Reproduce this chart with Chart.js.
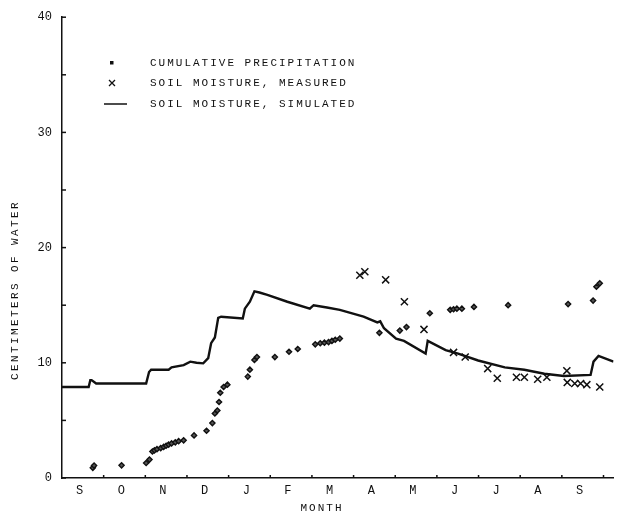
<!DOCTYPE html>
<html>
<head>
<meta charset="utf-8">
<script src="https://cdn.jsdelivr.net/npm/chart.js@4.4.1/dist/chart.umd.min.js"></script>
<style>
  html, body { margin: 0; padding: 0; background: #fff; }
  #wrap { width: 620px; height: 523px; position: relative; }
</style>
</head>
<body>
<div id="wrap"><canvas id="chart"></canvas></div>
<script>
// meses: 0 = 1 de septiembre, 1 = 1 de octubre, ...
const monthLabels = ['S', 'O', 'N', 'D', 'J', 'F', 'M', 'A', 'M', 'J', 'J', 'A', 'S'];
const yTicks = [0, 10, 20, 30, 40];

// humedad del suelo simulada (cm de agua)
const simMonth = [0, 0.64, 0.68, 0.71, 0.82, 2.02, 2.09, 2.14, 2.56, 2.63, 2.92, 3.08, 3.23, 3.39, 3.51, 3.58, 3.67, 3.75, 3.82,
  4.34, 4.39, 4.51, 4.62, 4.74, 4.93, 5.41, 5.95, 6.04, 6.36, 6.67, 7.24, 7.57, 7.64, 7.73, 8.02, 8.21, 8.73, 8.78,
  9.21, 9.51, 9.99, 10.63, 11.10, 11.58, 12.05, 12.69, 12.76, 12.88, 13.24];
const simValue = [7.9, 7.9, 8.5, 8.5, 8.2, 8.2, 9.2, 9.4, 9.4, 9.6, 9.8, 10.1, 10.0, 9.95, 10.4, 11.7, 12.2, 13.9, 14.0,
  13.85, 14.7, 15.3, 16.2, 16.1, 15.9, 15.3, 14.7, 15.0, 14.8, 14.6, 14.0, 13.5, 13.6, 13.0, 12.1, 11.9, 10.8, 11.9,
  11.1, 10.8, 10.2, 9.6, 9.4, 9.05, 8.85, 8.95, 10.1, 10.6, 10.1];

// humedad del suelo medida
const measMonth = [7.15, 7.27, 7.77, 8.22, 8.69, 9.40, 9.68, 10.22, 10.45, 10.91, 11.10, 11.42, 11.64, 12.12, 12.13, 12.31, 12.45, 12.60, 12.91];
const measValue = [17.6, 17.9, 17.2, 15.3, 12.9, 10.9, 10.5, 9.5, 8.66, 8.75, 8.75, 8.57, 8.75, 9.3, 8.3, 8.2, 8.2, 8.1, 7.9];

// precipitación acumulada
const precMonth = [0.74, 0.77, 1.43, 2.02, 2.10, 2.17, 2.22, 2.28, 2.37, 2.44, 2.50, 2.56, 2.63, 2.72, 2.80, 2.92, 3.17, 3.47,
  3.61, 3.67, 3.73, 3.77, 3.80, 3.88, 3.97, 4.46, 4.51, 4.62, 4.68, 5.11, 5.45, 5.66, 6.08, 6.20, 6.30, 6.40, 6.48, 6.56, 6.67,
  7.62, 8.11, 8.27, 8.83, 9.32, 9.40, 9.48, 9.60, 9.89, 10.71, 12.15, 12.75, 12.83, 12.91];
const precValue = [0.88, 1.08, 1.1, 1.3, 1.6, 2.3, 2.4, 2.5, 2.6, 2.7, 2.8, 2.9, 3.0, 3.1, 3.2, 3.27, 3.7, 4.1,
  4.77, 5.6, 5.86, 6.6, 7.4, 7.9, 8.1, 8.8, 9.4, 10.25, 10.5, 10.5, 10.96, 11.2, 11.6, 11.7, 11.75, 11.8, 11.9, 12.0, 12.1,
  12.6, 12.8, 13.1, 14.3, 14.6, 14.65, 14.7, 14.7, 14.85, 15.0, 15.1, 15.4, 16.6, 16.9];

const toPoints = (xs, ys) => xs.map((x, i) => ({ x: x, y: ys[i] }));

const INK = '#111';
const FONT = '"Liberation Mono", "DejaVu Sans Mono", monospace';

// textos, leyenda y marcas de los ejes
const extras = {
  id: 'extras',
  afterDraw(chart) {
    const ctx = chart.ctx;
    const xs = chart.scales.x;
    const ys = chart.scales.y;
    ctx.save();
    ctx.strokeStyle = INK;
    ctx.fillStyle = INK;
    ctx.lineWidth = 1.5;

    // marcas del eje y hacia dentro
    ys.ticks.forEach(t => {
      const py = ys.getPixelForValue(t.value);
      ctx.beginPath();
      ctx.moveTo(xs.left, py);
      ctx.lineTo(xs.left + 4, py);
      ctx.stroke();
    });
    // marcas del eje x
    xs.ticks.forEach(t => {
      const px = xs.getPixelForValue(t.value);
      ctx.beginPath();
      ctx.moveTo(px, ys.bottom);
      ctx.lineTo(px, ys.bottom - 3);
      ctx.stroke();
    });

    ctx.font = '11px ' + FONT;
    ctx.letterSpacing = '2px';
    ctx.textBaseline = 'middle';

    // título eje x
    ctx.textAlign = 'center';
    ctx.fillText('MONTH', 322, 508);

    // título eje y
    ctx.save();
    ctx.translate(15, 290);
    ctx.rotate(-Math.PI / 2);
    ctx.letterSpacing = '2.4px';
    ctx.fillText('CENTIMETERS OF WATER', 0, 0);
    ctx.restore();

    // leyenda
    ctx.textAlign = 'left';
    const rows = [
      { text: 'CUMULATIVE PRECIPITATION', y: 63 },
      { text: 'SOIL MOISTURE, MEASURED', y: 83 },
      { text: 'SOIL MOISTURE, SIMULATED', y: 104 }
    ];
    rows.forEach(r => ctx.fillText(r.text, 150, r.y));

    ctx.fillRect(110, 61, 3.5, 3.5);
    ctx.lineWidth = 1.3;
    ctx.beginPath();
    ctx.moveTo(109, 80); ctx.lineTo(115, 86);
    ctx.moveTo(115, 80); ctx.lineTo(109, 86);
    ctx.stroke();
    ctx.lineWidth = 1.5;
    ctx.beginPath();
    ctx.moveTo(104, 104); ctx.lineTo(127, 104);
    ctx.stroke();
    ctx.restore();
  }
};

new Chart(document.getElementById('chart'), {
  type: 'scatter',
  data: {
    datasets: [
      {
        type: 'line',
        label: 'SOIL MOISTURE, SIMULATED',
        data: toPoints(simMonth, simValue),
        borderColor: INK,
        borderWidth: 2.4,
        pointRadius: 0,
        tension: 0,
        fill: false
      },
      {
        label: 'SOIL MOISTURE, MEASURED',
        data: toPoints(measMonth, measValue),
        pointStyle: 'crossRot',
        pointRadius: 5,
        borderColor: INK,
        borderWidth: 1.5
      },
      {
        label: 'CUMULATIVE PRECIPITATION',
        data: toPoints(precMonth, precValue),
        pointStyle: 'rectRot',
        pointRadius: 2.6,
        backgroundColor: '#555',
        borderColor: INK,
        borderWidth: 1.4
      }
    ]
  },
  options: {
    responsive: true,
    maintainAspectRatio: false,
    animation: false,
    layout: { padding: { top: 16, right: 0, left: 0, bottom: 0 } },
    plugins: {
      legend: { display: false },
      tooltip: { enabled: false }
    },
    scales: {
      x: {
        type: 'linear',
        min: 0,
        max: 13.24,
        afterBuildTicks: scale => {
          scale.ticks = monthLabels.map((m, i) => ({ value: i + 1 }));
        },
        afterFit: scale => { scale.height = 45; },
        grid: { display: false, drawTicks: false },
        border: { display: true, color: INK, width: 1.5 },
        ticks: {
          color: INK,
          font: { family: FONT, size: 12 },
          padding: 6,
          labelOffset: -24,
          maxRotation: 0,
          autoSkip: false,
          callback: v => monthLabels[Math.round(v) - 1] || ''
        }
      },
      y: {
        min: 0,
        max: 40,
        afterFit: scale => { scale.width = 62; },
        afterBuildTicks: scale => {
          const t = [];
          for (let v = 0; v <= 40; v += 5) t.push({ value: v });
          scale.ticks = t;
        },
        grid: { display: false, drawTicks: false },
        border: { display: true, color: INK, width: 1.5 },
        ticks: {
          color: INK,
          font: { family: FONT, size: 12 },
          padding: 10,
          autoSkip: false,
          callback: v => yTicks.includes(v) ? v : ''
        }
      }
    }
  },
  plugins: [extras]
});
</script>
</body>
</html>
